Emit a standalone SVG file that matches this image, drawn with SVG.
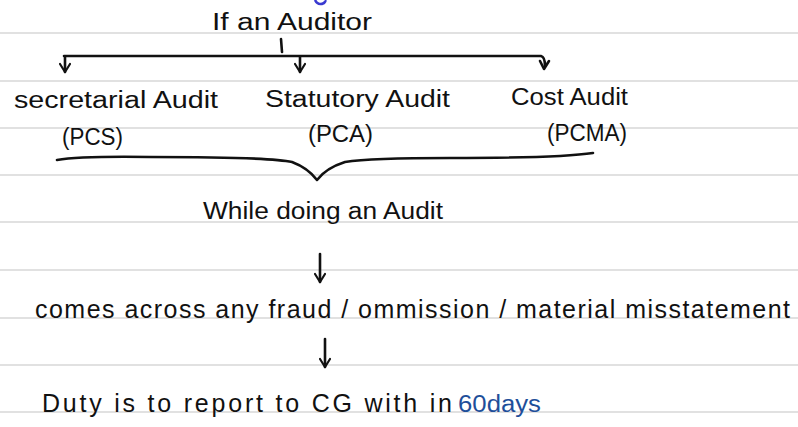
<svg xmlns="http://www.w3.org/2000/svg" width="798" height="427" viewBox="0 0 798 427">
<defs>
<style>
.rule{stroke:#e1e1e1;stroke-width:2}
.t{font-family:"Liberation Sans",Arial,sans-serif;font-size:23px;fill:#111}
.big{font-size:25px}
.blue{fill:#1f4f9a}
.ln{fill:none;stroke:#111;stroke-width:2.6;stroke-linecap:round;stroke-linejoin:round}
</style>
<marker id="ah" viewBox="0 0 12 12" refX="10" refY="6" markerWidth="12" markerHeight="12" markerUnits="userSpaceOnUse" orient="auto">
<path d="M2,1 L10,6 L2,11" fill="none" stroke="#111" stroke-width="2.2" stroke-linecap="round" stroke-linejoin="round"/>
</marker>
</defs>
<rect width="798" height="427" fill="#ffffff"/>
<g id="ruled-lines">
<line class="rule" x1="0" y1="33" x2="798" y2="33"/>
<line class="rule" x1="0" y1="81" x2="798" y2="81"/>
<line class="rule" x1="0" y1="128" x2="798" y2="128"/>
<line class="rule" x1="0" y1="175" x2="798" y2="175"/>
<line class="rule" x1="0" y1="222" x2="798" y2="222"/>
<line class="rule" x1="0" y1="270" x2="798" y2="270"/>
<line class="rule" x1="0" y1="318" x2="798" y2="318"/>
<line class="rule" x1="0" y1="365" x2="798" y2="365"/>
<line class="rule" x1="0" y1="412" x2="798" y2="412"/>
</g>
<path d="M315,0 Q318,6 324,3 Q326,1 325,0" fill="none" stroke="#3a3ad0" stroke-width="2.6"/>
<g id="connectors">
<line class="ln" x1="281" y1="39" x2="282" y2="52"/>
<path class="ln" d="M64,56 L541,56 Q545,57 545,66"/>
<line class="ln" x1="65" y1="57" x2="65" y2="72" marker-end="url(#ah)"/>
<line class="ln" x1="300" y1="57" x2="300" y2="72" marker-end="url(#ah)"/>
<path class="ln" d="M540,61 L544,69 L549,61"/>
<path class="ln" d="M57,160 Q80,156 150,157 Q270,157 292,162 Q308,168 317,180 Q326,168 345,162 Q370,158 450,158 Q560,158 593,153"/>
<line class="ln" x1="320" y1="254" x2="320" y2="282" marker-end="url(#ah)"/>
<line class="ln" x1="325" y1="339" x2="325" y2="367" marker-end="url(#ah)"/>
</g>
<g id="node-auditor"><text class="t" x="212" y="30" textLength="160" lengthAdjust="spacingAndGlyphs">If an Auditor</text></g>
<g id="node-secretarial">
<text class="t" x="14" y="108" textLength="204" lengthAdjust="spacingAndGlyphs">secretarial Audit</text>
<text class="t" x="62" y="145" textLength="61" lengthAdjust="spacingAndGlyphs">(PCS)</text>
</g>
<g id="node-statutory">
<text class="t" x="265" y="107" textLength="185" lengthAdjust="spacingAndGlyphs">Statutory Audit</text>
<text class="t" x="308" y="142" textLength="65" lengthAdjust="spacingAndGlyphs">(PCA)</text>
</g>
<g id="node-cost">
<text class="t" x="511" y="105" textLength="117" lengthAdjust="spacingAndGlyphs">Cost Audit</text>
<text class="t" x="547" y="141" textLength="80" lengthAdjust="spacingAndGlyphs">(PCMA)</text>
</g>
<g id="node-while"><text class="t" x="203" y="219" textLength="240" lengthAdjust="spacingAndGlyphs">While doing an Audit</text></g>
<g id="node-comes"><text class="t big" x="35" y="318" textLength="755" lengthAdjust="spacing">comes across any fraud / ommission / material misstatement</text></g>
<g id="node-duty">
<text class="t big" x="42" y="412" textLength="410" lengthAdjust="spacing">Duty is to report to CG with in</text>
<text class="t blue" x="458" y="412" textLength="83" lengthAdjust="spacingAndGlyphs">60days</text>
</g>
</svg>
